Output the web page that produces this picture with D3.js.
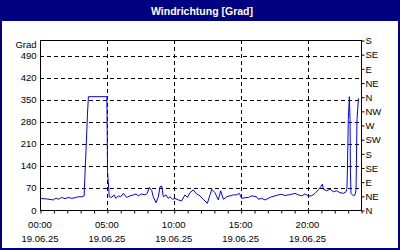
<!DOCTYPE html>
<html><head><meta charset="utf-8">
<script src="https://cdn.jsdelivr.net/npm/d3@7"></script>
<style>
html,body{margin:0;padding:0;background:#fff;}
svg{display:block;}
text{font-family:"Liberation Sans",Arial,sans-serif;}
</style></head>
<body>
<svg id="c" width="400" height="250"></svg>
<script>
const title = "Windrichtung [Grad]";
const unitLabel = "Grad";
const dateLabel = "19.06.25";
const xTickHours = [0, 5, 10, 15, 20];
const xTickLabels = ["00:00", "05:00", "10:00", "15:00", "20:00"];
const leftTicks = [0, 70, 140, 210, 280, 350, 420, 490];
const rightTicks = [0, 45, 90, 135, 180, 225, 270, 315, 360, 405, 450, 495, 540];
const rightLabels = ["N","NE","E","SE","S","SW","W","NW","N","NE","E","SE","S"];

// hour of day (decimal) and wind direction in degrees
const hours = [0.0,0.5,1.0,1.2,1.37,1.62,1.87,2.12,2.37,2.62,2.87,3.12,3.30,3.35,3.45,3.55,3.62,
  5.00,5.05,5.18,5.36,5.53,5.68,5.86,6.03,6.23,6.48,6.73,6.98,7.18,7.35,7.60,7.85,8.02,8.17,
  8.35,8.47,8.67,8.85,8.97,9.10,9.22,9.42,9.59,9.72,9.92,10.09,10.34,10.59,10.84,11.02,11.21,
  11.46,11.71,11.96,12.21,12.51,12.71,12.84,13.08,13.33,13.51,13.71,13.96,14.21,14.45,14.70,
  14.90,15.08,15.33,15.58,15.83,16.20,16.32,16.57,16.82,17.07,17.32,17.57,17.82,18.07,18.32,
  18.57,18.82,19.07,19.31,19.57,19.81,20.06,20.31,20.56,20.81,20.99,21.11,21.18,21.43,21.68,
  21.93,22.18,22.43,22.68,22.88,22.95,22.99,23.05,23.13,23.18,23.21,23.25,23.43,23.55,23.63,
  23.70,23.81];
const degrees = [37,35,32,38,34,40,36,40,37,39,42,42,45,100,200,305,360,
  360,122,42,40,48,37,45,42,53,40,45,48,51,45,51,48,53,72,
  62,42,23,42,74,76,42,48,37,42,34,37,32,29,48,40,55,
  64,51,45,34,21,48,66,55,32,61,34,42,45,48,48,
  53,37,39,40,45,42,34,37,32,37,42,45,48,50,46,
  48,50,53,48,45,51,45,45,53,64,74,82,66,61,66,
  58,61,55,53,58,69,140,287,360,287,120,53,45,48,64,
  287,355];

const svg = d3.select("#c");
const W = 400, H = 250;
const m = {left: 40, right: 361, top: 40, bottom: 210};

// outer frame and title bar
svg.append("rect").attr("x",0).attr("y",0).attr("width",W).attr("height",21).attr("fill","#000080");
svg.append("rect").attr("x",1).attr("y",1).attr("width",W-2).attr("height",H-2)
  .attr("fill","none").attr("stroke","#000080").attr("stroke-width",2);
svg.append("text").attr("x",202).attr("y",14.5).attr("text-anchor","middle")
  .attr("fill","#fff").attr("font-weight","bold").attr("font-size","10.5px").text(title);

const x = d3.scaleLinear().domain([0,24]).range([m.left, m.right]);
const y = d3.scaleLinear().domain([0,540]).range([m.bottom, m.top]);

// grid
const grid = svg.append("g").attr("stroke","#000").attr("stroke-width",1).attr("stroke-dasharray","4,3");
grid.selectAll("line.h").data(leftTicks.filter(d=>d>0)).join("line")
  .attr("x1",m.left).attr("x2",m.right)
  .attr("y1",d=>Math.round(y(d))+0.5).attr("y2",d=>Math.round(y(d))+0.5);
grid.selectAll("line.v").data(xTickHours.filter(d=>d>0)).join("line")
  .attr("y1",m.top).attr("y2",m.bottom)
  .attr("x1",d=>Math.round(x(d))+0.5).attr("x2",d=>Math.round(x(d))+0.5);

// data line
const line = d3.line().x((d,i)=>x(hours[i])).y(d=>y(d));
svg.append("path").datum(degrees).attr("d",line).attr("fill","none")
  .attr("stroke","#0000ff").attr("stroke-width",1);

// plot frame
svg.append("rect").attr("x",m.left+0.5).attr("y",m.top+0.5)
  .attr("width",m.right-m.left).attr("height",m.bottom-m.top)
  .attr("fill","none").attr("stroke","#000").attr("stroke-width",1);

// left axis labels
const lg = svg.append("g").attr("font-size","9.5px").attr("fill","#000");
lg.selectAll("text").data(leftTicks).join("text")
  .attr("x",36.5).attr("y",d=>y(d)+3.5).attr("text-anchor","end").text(d=>d);
lg.append("text").attr("x",36.5).attr("y",48).attr("text-anchor","end").text(unitLabel);

// right axis
const ra = d3.axisRight(y).tickValues(rightTicks).tickSize(3).tickFormat((d,i)=>rightLabels[i]);
const rg = svg.append("g").attr("transform",`translate(${m.right+0.5},0.5)`).call(ra);
rg.select(".domain").remove();
rg.selectAll("line").attr("stroke","#000");
rg.selectAll("text").attr("font-size","9.5px").attr("fill","#000").attr("x",4).attr("dy","0.34em")
  .attr("font-family","'Liberation Sans',Arial,sans-serif");

// bottom axis (hourly minor ticks)
const hourTicks = d3.range(0,25);
const ba = d3.axisBottom(x).tickValues(hourTicks).tickSize(3).tickFormat("");
const bg = svg.append("g").attr("transform",`translate(0.5,${m.bottom+0.5})`).call(ba);
bg.select(".domain").remove();
bg.selectAll("line").attr("stroke","#000");

const xl = svg.append("g").attr("font-size","9.5px").attr("fill","#000").attr("text-anchor","middle");
xl.selectAll("text.t").data(xTickHours).join("text").attr("class","t")
  .attr("x",d=>x(d)).attr("y",227.5).text((d,i)=>xTickLabels[i]);
xl.selectAll("text.d").data(xTickHours).join("text").attr("class","d")
  .attr("x",d=>x(d)).attr("y",241.5).text(dateLabel);
</script>
</body></html>
